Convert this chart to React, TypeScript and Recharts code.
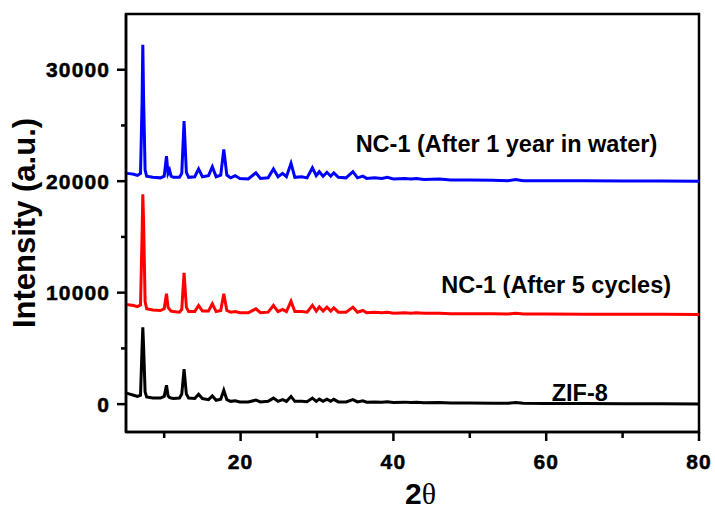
import React from 'react'
import { LineChart, Line, XAxis, YAxis, ReferenceArea, ReferenceDot } from 'recharts'

// 2θ positions shared by all three patterns
const twoTheta = [
  5.0, 5.5, 6.0, 6.5, 6.9, 7.1, 7.2, 7.3, 7.5, 7.7,
  8.5, 9.5, 10.0, 10.3, 10.5, 10.7, 10.9, 11.2, 12.0, 12.3,
  12.6, 12.9, 13.2, 14.0, 14.5, 15.0, 15.8, 16.3, 16.8, 17.4,
  17.8, 18.2, 18.7, 19.3, 19.9, 21.0, 22.0, 22.6, 23.6, 24.3,
  24.9, 25.5, 26.0, 26.6, 27.1, 28.0, 28.7, 29.4, 29.9, 30.3,
  30.8, 31.3, 31.8, 32.2, 32.8, 33.8, 34.7, 35.3, 36.0, 36.5,
  37.5, 38.5, 39.2, 40.0, 41.5, 42.3, 43.0, 44.0, 46.0, 47.5,
  50.0, 53.0, 55.0, 56.0, 57.0, 60.0, 65.0, 70.0, 75.0, 80.0,
]

// NC-1 after 1 year in water (offset pattern, blue)
const waterYear = [
  20700, 20680, 20620, 20520, 20700, 27000, 32250, 27500, 21000, 20450,
  20350, 20300, 20450, 22250, 20700, 21000, 20450, 20350, 20350, 20700,
  25400, 20800, 20350, 20400, 21100, 20400, 20500, 21300, 20400, 20550,
  22850, 20550, 20300, 20500, 20250, 20200, 20750, 20250, 20300, 21100,
  20400, 20700, 20400, 21600, 20350, 20400, 20300, 21200, 20500, 20850,
  20450, 20800, 20450, 20750, 20350, 20300, 20850, 20300, 20450, 20250,
  20300, 20250, 20350, 20200, 20250, 20200, 20250, 20150, 20200, 20100,
  20100, 20080, 20050, 20150, 20050, 20030, 20030, 20020, 20010, 20000,
]

// NC-1 after 5 cycles (offset pattern, red)
const fiveCycles = [
  8950, 8900, 8850, 8750, 8900, 15000, 18830, 16500, 9200, 8550,
  8450, 8400, 8550, 9900, 8700, 8500, 8350, 8300, 8250, 8500,
  11770, 8700, 8300, 8300, 8850, 8350, 8350, 9000, 8300, 8400,
  9900, 8400, 8250, 8300, 8200, 8200, 8550, 8200, 8250, 8850,
  8300, 8500, 8300, 9230, 8300, 8300, 8250, 8870, 8350, 8730,
  8350, 8700, 8350, 8640, 8250, 8250, 8700, 8250, 8400, 8200,
  8250, 8200, 8250, 8150, 8200, 8150, 8200, 8150, 8150, 8100,
  8100, 8100, 8080, 8150, 8080, 8080, 8070, 8060, 8060, 8050,
]

// ZIF-8 reference pattern (black)
const zif8 = [
  1000, 900, 800, 700, 800, 5000, 6900, 5200, 1100, 650,
  550, 550, 700, 1700, 750, 600, 550, 500, 550, 900,
  3130, 900, 550, 500, 890, 500, 400, 740, 350, 450,
  1250, 400, 250, 300, 200, 200, 360, 200, 250, 540,
  250, 400, 250, 690, 250, 250, 220, 540, 250, 450,
  250, 450, 250, 430, 200, 200, 400, 200, 300, 180,
  200, 170, 220, 150, 180, 150, 170, 130, 140, 100,
  100, 80, 70, 150, 70, 60, 50, 40, 30, 20,
]

const xTicks = [10, 20, 30, 40, 50, 60, 70, 80]
const yTicks = [0, 5000, 10000, 15000, 20000, 25000, 30000]

const data = twoTheta.map((t, i) => ({
  t,
  water: waterYear[i],
  cycles: fiveCycles[i],
  zif: zif8[i],
}))

const FONT = '"Liberation Sans", Arial, sans-serif'
const TICK_SIZE = 9
const TICK_MARGIN = 6

const YTick = ({ x, y, payload }: any) => {
  const axisX = x + TICK_SIZE + TICK_MARGIN
  const major = payload.value % 10000 === 0
  return (
    <g>
      <line x1={axisX - (major ? 9 : 5)} x2={axisX} y1={y} y2={y} stroke="#000" strokeWidth={2.5} />
      {major && (
        <text x={axisX - 16} y={y + 7.5} textAnchor="end" fontFamily={FONT} fontWeight="bold"
          fontSize={21} letterSpacing={1.1} fill="#000" stroke="#000" strokeWidth={0.5}>
          {payload.value}
        </text>
      )}
    </g>
  )
}

const XTick = ({ x, y, payload }: any) => {
  const axisY = y - TICK_SIZE - TICK_MARGIN
  const major = payload.value % 20 === 0
  return (
    <g>
      <line x1={x} x2={x} y1={axisY} y2={axisY + (major ? 9 : 6)} stroke="#000" strokeWidth={2.5} />
      {major && (
        <text x={x} y={axisY + 37} textAnchor="middle" fontFamily={FONT} fontWeight="bold"
          fontSize={21} letterSpacing={1.1} fill="#000" stroke="#000" strokeWidth={0.5}>
          {payload.value}
        </text>
      )}
    </g>
  )
}

const YTitle = ({ viewBox }: any) => {
  const cy = viewBox.y + viewBox.height / 2
  return (
    <text transform={`translate(35, ${cy}) rotate(-90)`} textAnchor="middle" fontFamily={FONT}
      fontWeight="bold" fontSize={31} fill="#000">
      Intensity (a.u.)
    </text>
  )
}

const XTitle = ({ viewBox }: any) => {
  const cx = viewBox.x + viewBox.width / 2
  return (
    <text x={cx + 8} y={viewBox.y + 72} textAnchor="middle" fontFamily={FONT} fontWeight="bold"
      fontSize={30} fill="#000">
      2<tspan fontFamily='"Liberation Serif", serif' fontWeight="normal">θ</tspan>
    </text>
  )
}

const curveLabel = (text: string) => ({
  value: text,
  position: 'center' as const,
  fontFamily: FONT,
  fontWeight: 'bold',
  fontSize: 23.5,
  fill: '#000',
})

export default function App() {
  return (
    <div style={{ position: 'absolute', left: 0, top: 0, background: '#fff' }}>
      <LineChart width={715} height={511} data={data} margin={{ top: 14, right: 16, bottom: 0, left: 0 }}>
        <XAxis
          dataKey="t"
          type="number"
          domain={[5, 80]}
          ticks={xTicks}
          interval={0}
          allowDataOverflow
          height={79}
          tickSize={TICK_SIZE}
          tickMargin={TICK_MARGIN}
          tickLine={false}
          tick={<XTick />}
          axisLine={{ stroke: '#000', strokeWidth: 2.5 }}
          label={<XTitle />}
        />
        <YAxis
          type="number"
          domain={[-2500, 35000]}
          ticks={yTicks}
          interval={0}
          allowDataOverflow
          width={126}
          tickSize={TICK_SIZE}
          tickMargin={TICK_MARGIN}
          tickLine={false}
          tick={<YTick />}
          axisLine={{ stroke: '#000', strokeWidth: 2.5 }}
          label={<YTitle />}
        />
        <ReferenceArea x1={5} x2={80} y1={-2500} y2={35000} fill="none" stroke="#000" strokeWidth={2.5} />
        <Line type="linear" dataKey="zif" stroke="#000000" strokeWidth={3} dot={false} isAnimationActive={false} />
        <Line type="linear" dataKey="cycles" stroke="#ff0000" strokeWidth={3} dot={false} isAnimationActive={false} />
        <Line type="linear" dataKey="water" stroke="#0000ff" strokeWidth={3} dot={false} isAnimationActive={false} />
        <ReferenceDot x={54.8} y={23340} r={0} stroke="none" label={curveLabel('NC-1 (After 1 year in water)')} />
        <ReferenceDot x={61.3} y={10690} r={0} stroke="none" label={curveLabel('NC-1 (After 5 cycles)')} />
        <ReferenceDot x={64.4} y={1000} r={0} stroke="none" label={curveLabel('ZIF-8')} />
      </LineChart>
    </div>
  )
}
